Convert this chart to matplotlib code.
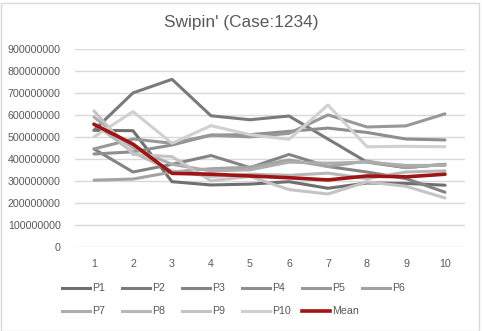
import matplotlib
matplotlib.use("Agg")
from matplotlib import pyplot as plt
from matplotlib.lines import Line2D
from matplotlib.patches import Rectangle
from matplotlib.ticker import FuncFormatter

# Data
steps = [1, 2, 3, 4, 5, 6, 7, 8, 9, 10]
names = ["P1", "P2", "P3", "P4", "P5", "P6", "P7", "P8", "P9", "P10"]

p1 = [530e6, 528e6, 296e6, 281e6, 285e6, 296e6, 266e6, 290e6, 288e6, 280e6]
p2 = [530e6, 700e6, 762e6, 596e6, 578e6, 595e6, 490e6, 385e6, 360e6, 375e6]
p3 = [445e6, 340e6, 375e6, 415e6, 360e6, 420e6, 365e6, 340e6, 310e6, 248e6]
p4 = [422e6, 432e6, 463e6, 508e6, 510e6, 525e6, 540e6, 520e6, 490e6, 486e6]
p5 = [445e6, 490e6, 471e6, 508e6, 500e6, 516e6, 600e6, 545e6, 550e6, 605e6]
p6 = [303e6, 308e6, 340e6, 355e6, 362e6, 395e6, 365e6, 390e6, 360e6, 375e6]
p7 = [590e6, 450e6, 375e6, 345e6, 350e6, 385e6, 380e6, 385e6, 370e6, 370e6]
p8 = [560e6, 430e6, 345e6, 320e6, 330e6, 325e6, 335e6, 310e6, 340e6, 345e6]
p9 = [618e6, 420e6, 410e6, 300e6, 320e6, 260e6, 240e6, 295e6, 275e6, 222e6]
p10 = [500e6, 615e6, 471e6, 551e6, 510e6, 489e6, 645e6, 455e6, 457e6, 455e6]
mean = [557e6, 467e6, 334e6, 330e6, 322e6, 314e6, 304e6, 322e6, 318e6, 330e6]

series = [p1, p2, p3, p4, p5, p6, p7, p8, p9, p10]
grays = ["#6f6f6f", "#7a7a7a", "#848484", "#8e8e8e", "#989898",
         "#a3a3a3", "#adadad", "#b7b7b7", "#c4c4c4", "#d0d0d0"]
mean_color = "#a01414"
text_color = "#595959"

plt.rcParams["font.family"] = ["Liberation Sans", "DejaVu Sans"]

W, H = 482, 331
fig = plt.figure(figsize=(W / 100, H / 100), dpi=100)
ax = fig.add_axes([74.5 / W, 1 - 246.7 / H, 390 / W, 197.7 / H])

for vals, col in zip(series, grays):
    ax.plot(steps, vals, color=col, lw=2.2, solid_capstyle="round")
ax.plot(steps, mean, color=mean_color, lw=2.6, solid_capstyle="round")

ax.set_xlim(0.5, 10.5)
ax.set_ylim(0, 900e6)
ax.set_yticks([i * 100e6 for i in range(10)])
ax.set_xticks(steps)
ax.yaxis.set_major_formatter(FuncFormatter(lambda v, p: "%d" % v))
ax.grid(axis="y", color="#d9d9d9", lw=1)
ax.set_axisbelow(True)
for s in ax.spines.values():
    s.set_visible(False)
ax.tick_params(length=0, labelsize=7.7, colors=text_color)
ax.tick_params(axis="y", pad=10)
ax.tick_params(axis="x", pad=9)

fig.text(0.5, 1 - 22 / H, "Swipin' (Case:1234)", ha="center", va="center",
         fontsize=12.4, color=text_color)

# legend laid out like the spreadsheet one: 6 per row
labels = names + ["Mean"]
colors = grays + [mean_color]
for i, (lab, col) in enumerate(zip(labels, colors)):
    row, c = divmod(i, 6)
    x0 = 62 + c * 60
    y0 = 288 + row * 23
    fig.add_artist(Line2D([x0 / W, (x0 + 28) / W], [1 - y0 / H, 1 - y0 / H],
                          color=col, lw=2.2 if lab != "Mean" else 2.6))
    fig.text((x0 + 30) / W, 1 - y0 / H, lab, ha="left", va="center",
             fontsize=7.7, color=text_color)

fig.add_artist(Rectangle((0.5 / W, 0.5 / H), (W - 4) / W, (H - 3) / H,
                         transform=fig.transFigure, fill=False,
                         edgecolor="#d9d9d9", lw=1))

fig.savefig("out.png", dpi=100)
